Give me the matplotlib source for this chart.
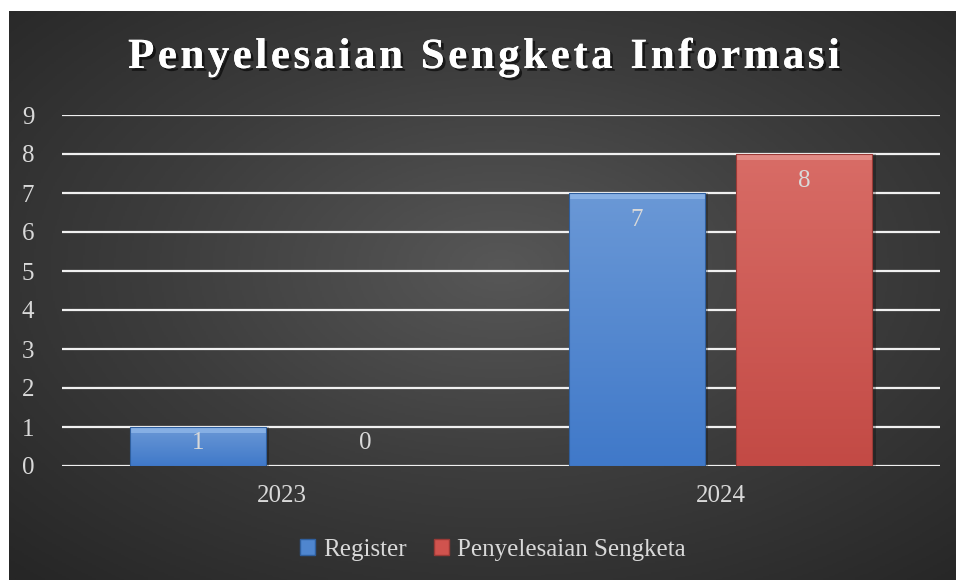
import matplotlib.pyplot as plt
import numpy as np
from matplotlib.colors import LinearSegmentedColormap
from matplotlib.patches import Rectangle
import matplotlib.patheffects as pe

# data
years = ['2023', '2024']
register = [1, 7]
penyelesaian = [0, 8]
series_names = ['Register', 'Penyelesaian Sengketa']
yticks = list(range(0, 10))
title = 'Penyelesaian Sengketa Informasi'

plt.rcParams['font.family'] = ['Liberation Serif', 'DejaVu Serif']

W, H = 957, 580
fig = plt.figure(figsize=(W / 100, H / 100), dpi=100, facecolor='white')

# dark radial background panel
bg = fig.add_axes([9 / W, 0, (W - 11) / W, 1 - 11 / H])
bg.set_axis_off()
yy, xx = np.mgrid[0:1:300j, 0:1:500j]
r = np.sqrt(((xx - 0.52) / 0.75) ** 2 + ((yy - 0.55) / 0.75) ** 2)
r = np.clip(r, 0, 1)
bg_cmap = LinearSegmentedColormap.from_list('bg', ['#575757', '#3c3c3c', '#262626'])
bg.imshow(r, cmap=bg_cmap, aspect='auto', extent=[0, 1, 0, 1], origin='lower', vmin=0, vmax=1)
bg.set_xlim(0, 1)
bg.set_ylim(0, 1)

ax = fig.add_axes([62 / W, 1 - 466 / H, (940 - 62) / W, (466 - 115) / H])
ax.set_facecolor('none')
ax.set_xlim(-0.5, 1.5)
ax.set_ylim(0, 9)
for s in ax.spines.values():
    s.set_visible(False)
ax.set_yticks(yticks)
ax.yaxis.grid(True, color='#f0f0f0', linewidth=1.6)
ax.set_axisbelow(True)
ax.tick_params(axis='y', length=0, pad=20, labelsize=18, labelcolor='#d9d9d9')
ax.set_xticks(range(len(years)))
ax.set_xticklabels(years)
ax.tick_params(axis='x', length=0, pad=14, labelsize=18, labelcolor='#d9d9d9')

bar_w = 0.31
offset = 0.191
x = np.arange(len(years))

def gradient_bars(xs, vals, top_col, bot_col, edge_col, light_col):
    cmap = LinearSegmentedColormap.from_list('g', [bot_col, top_col])
    for xc, v in zip(xs, vals):
        if v <= 0:
            continue
        x0 = xc - bar_w / 2
        # soft shadow
        ax.add_patch(Rectangle((x0 + 0.004, 0), bar_w + 0.004, v, facecolor='black',
                               alpha=0.25, edgecolor='none', zorder=2))
        rect = Rectangle((x0, 0), bar_w, v, facecolor='none', edgecolor=edge_col,
                         linewidth=0.8, zorder=4)
        ax.add_patch(rect)
        grad = np.linspace(0, 1, 100).reshape(-1, 1)
        im = ax.imshow(grad, cmap=cmap, aspect='auto', origin='lower',
                       extent=[x0, x0 + bar_w, 0, v], zorder=3)
        im.set_clip_path(rect)
        # bevel highlight on top
        ax.add_patch(Rectangle((x0, v - 0.15), bar_w, 0.15, facecolor=light_col,
                               edgecolor='none', alpha=0.6, zorder=3.5))
    ax.set_xlim(-0.5, 1.5)
    ax.set_ylim(0, 9)

gradient_bars(x - offset, register, '#6a98d6', '#4079c9', '#2f5f9e', '#9cc2ef')
gradient_bars(x + offset, penyelesaian, '#d86c66', '#c34a45', '#9a3a36', '#eba19c')

# data labels
for xs, vals in ((x - offset, register), (x + offset, penyelesaian)):
    for xc, v in zip(xs, vals):
        ax.text(xc, max(v - 0.7, 0.58), str(v), ha='center', va='center',
                fontsize=18, color='#d9d9d9', zorder=6)

# title with letter spacing, drawn char by char
renderer = fig.canvas.get_renderer()
tkw = dict(fontsize=31, fontweight='bold', color='white', va='center', ha='left')
shadow = [pe.withSimplePatchShadow(offset=(2, -2), shadow_rgbFace='black', alpha=0.6), pe.Normal()]

def text_w(s):
    t = fig.text(0, 0, s, **tkw)
    w = t.get_window_extent(renderer).width
    t.remove()
    return w

space_w = text_w('a a') - text_w('aa')
widths = [space_w if c == ' ' else text_w(c) for c in title]
spacing = 3.5
total = sum(widths) + spacing * (len(title) - 1)
xpos = 484 - total / 2
for c, w in zip(title, widths):
    if c != ' ':
        fig.text(xpos / W, 1 - 58 / H, c, path_effects=shadow, **tkw)
    xpos += w + spacing

# legend
handles = [Rectangle((0, 0), 1, 1, facecolor='#4f86cf', edgecolor='#2f5f9e'),
           Rectangle((0, 0), 1, 1, facecolor='#d0534e', edgecolor='#9a3a36')]
leg = fig.legend(handles, series_names, loc='center', bbox_to_anchor=(0.515, 1 - 550 / H),
                 ncol=2, frameon=False, fontsize=18, handlelength=0.6, handleheight=0.6,
                 handletextpad=0.3, columnspacing=1.1)
for t in leg.get_texts():
    t.set_color('#d9d9d9')

fig.savefig('out.png', dpi=100, facecolor='white')
